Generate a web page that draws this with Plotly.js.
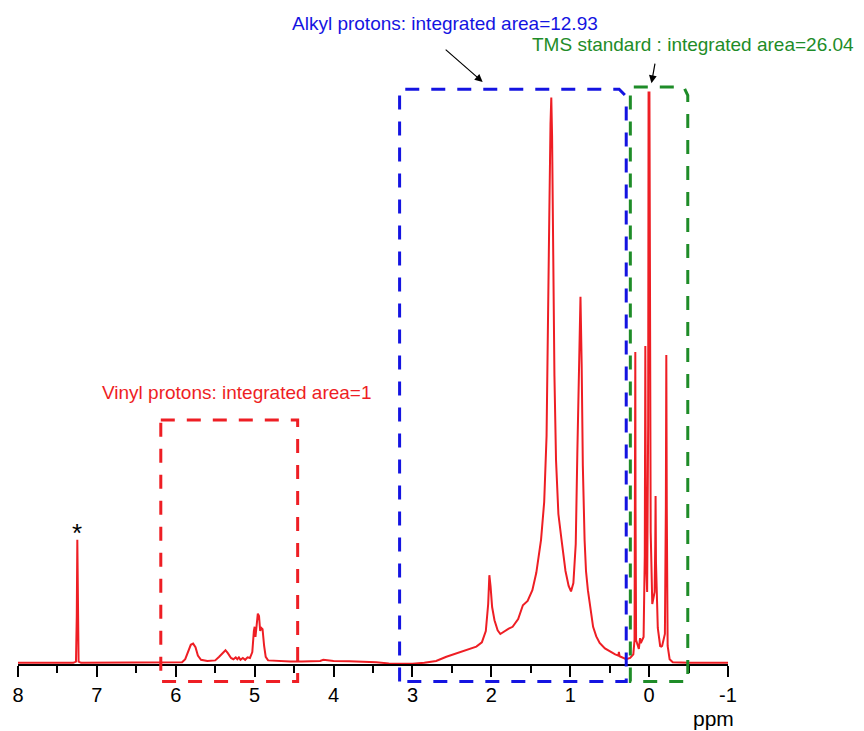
<!DOCTYPE html>
<html>
<head>
<meta charset="utf-8">
<script src="https://cdn.plot.ly/plotly-3.0.1.min.js"></script>
<style>html,body{margin:0;padding:0;background:#fff;}#chart{width:864px;height:731px;}</style>
</head>
<body>
<div id="chart"></div>
<script>
// Chemical shift (ppm) and relative intensity
const ppm = [8.00,7.60,7.30,7.265,7.255,7.248,7.242,7.232,7.20,6.50,6.00,5.92,5.88,5.84,5.81,5.78,5.75,5.72,5.68,5.60,5.50,5.45,5.40,5.37,5.34,5.30,5.27,5.24,5.22,5.20,5.18,5.15,5.12,5.09,5.06,5.03,5.01,5.00,4.99,4.975,4.96,4.945,4.93,4.915,4.90,4.88,4.86,4.83,4.70,4.55,4.40,4.25,4.17,4.13,4.08,4.00,3.80,3.60,3.46,3.30,3.00,2.85,2.70,2.57,2.45,2.38,2.33,2.25,2.19,2.12,2.07,2.04,2.025,2.01,1.99,1.96,1.92,1.886,1.84,1.78,1.73,1.66,1.60,1.54,1.48,1.43,1.37,1.33,1.30,1.28,1.265,1.25,1.24,1.23,1.215,1.20,1.18,1.15,1.11,1.06,1.02,0.99,0.96,0.93,0.91,0.885,0.87,0.855,0.84,0.818,0.80,0.776,0.74,0.71,0.67,0.627,0.56,0.50,0.43,0.39,0.383,0.375,0.33,0.29,0.24,0.20,0.185,0.178,0.175,0.172,0.165,0.13,0.115,0.105,0.07,0.055,0.048,0.04,0.025,0.012,0.007,0.002,-0.004,-0.010,-0.020,-0.040,-0.070,-0.078,-0.082,-0.087,-0.11,-0.14,-0.154,-0.165,-0.20,-0.212,-0.218,-0.224,-0.235,-0.26,-0.30,-0.50,-1.00];
const intensity = [0.2,0.2,0.2,0.4,8,20.7,8,0.4,0.2,0.2,0.2,0.3,0.8,2.2,3.2,3.4,2.8,1.4,0.7,0.5,0.6,1.2,2.0,2.3,1.8,1.0,0.8,1.1,0.8,1.1,0.7,1.0,0.7,1.1,1.0,2.0,5.5,6.2,4.5,6.5,8.4,8.0,5.5,6.0,5.8,3.0,1.2,0.6,0.5,0.4,0.4,0.4,0.5,0.7,0.6,0.5,0.45,0.4,0.3,0.1,0.05,0.2,0.5,1.2,1.7,2.1,2.3,2.6,2.9,3.6,5.5,10,14.8,13,9.5,7.3,5.6,5.0,5.4,5.9,6.2,7.5,9.8,10.5,12.3,15.2,20.7,27,38,55,75,90,94.4,88,68,48,34,25,20.7,15.5,13,12.1,13.5,20,35,50,61.2,50,33,20.7,15.5,12.3,8.5,6.2,4.6,3.5,2.6,2.1,1.6,1.4,2.0,1.3,1.0,0.8,1.0,1.6,4,26,52,26,4,2.5,4.3,3.5,4.5,18,53,18,12,40,95.4,80,95.4,68,22,10,12,20,28,17,6,3.0,2.9,3.0,5,26,51.5,26,3,0.8,0.3,0.2,0.2];

const tickVals = [8,7,6,5,4,3,2,1,0,-1];
const tickText = ['8','7','6','5','4','3','2','1','0','-1'];

// Integration regions (ppm)
const vinylRegion = [6.19, 4.455];
const alkylRegion = [3.163, 0.29];
const tmsRegion = [0.238, -0.49];

const labelVinyl = 'Vinyl protons: integrated area=1';
const labelAlkyl = 'Alkyl protons: integrated area=12.93';
const labelTMS = 'TMS standard : integrated area=26.04';

const RED = 'rgb(238,30,36)';
const BLUE = 'rgb(20,20,225)';
const GREEN = 'rgb(30,140,40)';
const FONT = '"Liberation Sans", Arial, sans-serif';
const DASH = '14px,12px';
const BOTTOM = -0.0292;

const trace = {
  x: ppm, y: intensity, type: 'scatter', mode: 'lines',
  line: {color: RED, width: 2}, hoverinfo: 'skip', showlegend: false
};

function rectBox(r, top, color) {
  return {type: 'rect', xref: 'x', yref: 'paper', x0: r[0], x1: r[1], y0: top, y1: BOTTOM,
    line: {color: color, width: 3, dash: DASH}, fillcolor: 'rgba(0,0,0,0)', layer: 'above'};
}
// box whose top-right corner is cut by a short slanted segment
function cutBox(r, top, color, dx, dy) {
  const p = 'M' + r[0] + ',' + BOTTOM + ' L' + r[0] + ',' + top + ' L' + (r[1] + dx) + ',' + top +
    ' L' + r[1] + ',' + (top - dy) + ' L' + r[1] + ',' + BOTTOM + ' Z';
  return {type: 'path', xref: 'x', yref: 'paper', path: p,
    line: {color: color, width: 3, dash: DASH}, fillcolor: 'rgba(0,0,0,0)', layer: 'above'};
}

const layout = {
  width: 864, height: 731,
  margin: {l: 18, r: 136, t: 64, b: 67},
  paper_bgcolor: '#fff', plot_bgcolor: '#fff',
  font: {family: FONT, color: '#000'},
  showlegend: false,
  xaxis: {
    range: [8, -1], autorange: false,
    tickvals: tickVals, ticktext: tickText,
    ticks: 'outside', ticklen: 11, tickwidth: 2, tickcolor: '#000',
    minor: {dtick: 0.5, tick0: 0, ticks: 'outside', ticklen: 7, tickwidth: 2, tickcolor: '#000', showgrid: false},
    showline: true, linecolor: '#000', linewidth: 2,
    showgrid: false, zeroline: false,
    tickfont: {family: FONT, size: 20, color: '#000'},
    ticklabelstandoff: 1
  },
  yaxis: {range: [0, 100], autorange: false, visible: false, showgrid: false, zeroline: false},
  shapes: [
    rectBox(vinylRegion, 0.4067, RED),
    cutBox(alkylRegion, 0.958, BLUE, 0.09, 0.012),
    cutBox(tmsRegion, 0.9617, GREEN, 0.05, 0.014)
  ],
  annotations: [
    {xref: 'paper', yref: 'paper', x: 0.3085, y: 0.4517, text: labelVinyl, showarrow: false,
      font: {family: FONT, size: 19, color: RED}, xanchor: 'center', yanchor: 'middle'},
    {xref: 'paper', yref: 'paper', x: 0.6014, y: 1.0683, text: labelAlkyl, showarrow: false,
      font: {family: FONT, size: 19, color: BLUE}, xanchor: 'center', yanchor: 'middle'},
    {xref: 'paper', yref: 'paper', x: 0.9514, y: 1.0317, text: labelTMS, showarrow: false,
      font: {family: FONT, size: 19, color: GREEN}, xanchor: 'center', yanchor: 'middle'},
    {xref: 'x', yref: 'paper', x: 2.11, y: 0.97, text: ' ', showarrow: true, axref: 'pixel', ayref: 'pixel',
      ax: -40, ay: -35, arrowhead: 2, arrowsize: 1.3, arrowwidth: 1.2, arrowcolor: '#000', standoff: 0, startstandoff: 0},
    {xref: 'x', yref: 'paper', x: -0.03, y: 0.968, text: ' ', showarrow: true, axref: 'pixel', ayref: 'pixel',
      ax: 5, ay: -28, arrowhead: 2, arrowsize: 1.3, arrowwidth: 1.2, arrowcolor: '#000', standoff: 0, startstandoff: 0},
    {xref: 'x', yref: 'paper', x: 7.247, y: 0.218, text: '*', showarrow: false,
      font: {family: FONT, size: 26, color: '#000'}, xanchor: 'center', yanchor: 'middle'},
    {xref: 'paper', yref: 'paper', x: 0.9789, y: -0.09, text: 'ppm', showarrow: false,
      font: {family: FONT, size: 21, color: '#000'}, xanchor: 'center', yanchor: 'middle'}
  ]
};

Plotly.newPlot('chart', [trace], layout, {displayModeBar: false, staticPlot: true});
</script>
</body>
</html>
